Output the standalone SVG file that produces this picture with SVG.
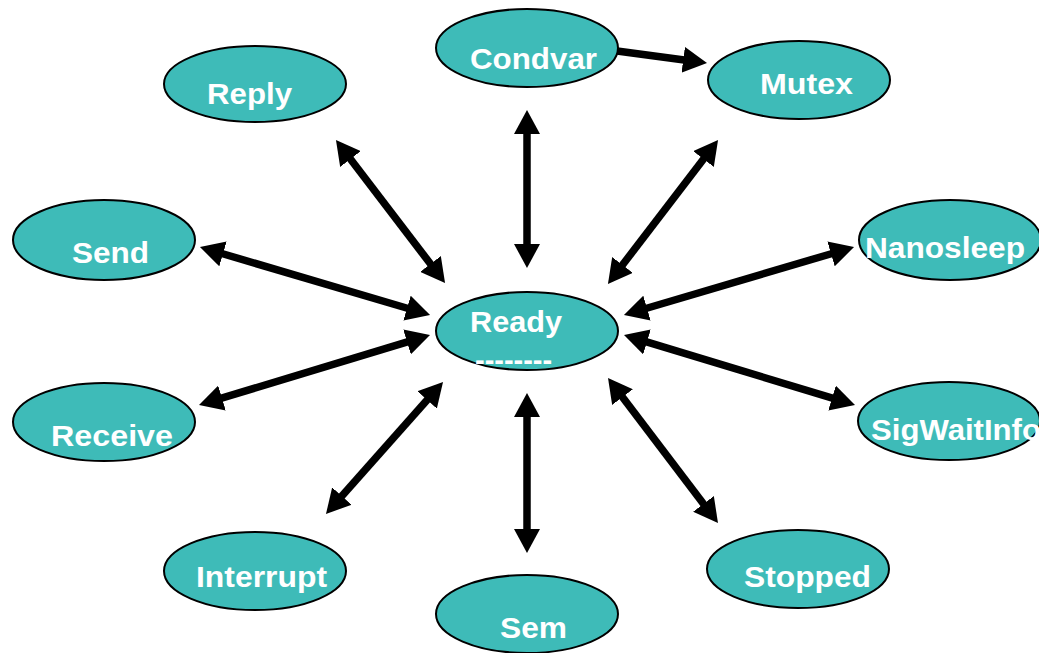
<svg xmlns="http://www.w3.org/2000/svg" width="1039" height="653" viewBox="0 0 1039 653">
<style>
.n{fill:#3EBBB8;stroke:#000;stroke-width:2}
.t{font-family:"Liberation Sans",Arial,sans-serif;font-weight:bold;font-size:30px;fill:#fff}
.c line{stroke:#000;stroke-width:7.5}
.b{marker-start:url(#ah);marker-end:url(#ah)}
.s{marker-end:url(#ah)}
</style>
<defs>
<marker id="ah" markerUnits="userSpaceOnUse" viewBox="0 -13 24 26" markerWidth="24" markerHeight="26" refX="3" refY="0" orient="auto-start-reverse">
<path d="M0,-13 L24,0 L0,13 z" fill="#000"/>
</marker>
</defs>
<rect width="1039" height="653" fill="#fff"/>
<g id="connectors" class="c">
<line class="b" x1="527" y1="131" x2="527" y2="247"/>
<line class="b" x1="527" y1="414" x2="527" y2="532"/>
<line class="b" x1="348.7" y1="156.7" x2="432.3" y2="266.3"/>
<line class="b" x1="705.3" y1="156.7" x2="620.7" y2="267.3"/>
<line class="b" x1="429.1" y1="397.7" x2="339.9" y2="498.3"/>
<line class="b" x1="620.7" y1="394.7" x2="705.3" y2="506.3"/>
<line class="b" x1="220.1" y1="253" x2="409.9" y2="309"/>
<line class="b" x1="219.1" y1="398.9" x2="409.9" y2="341.1"/>
<line class="b" x1="833.9" y1="253" x2="644.1" y2="309"/>
<line class="b" x1="834.9" y1="398.9" x2="644.1" y2="341.1"/>
<line class="s" x1="617" y1="51" x2="686.2" y2="60.2"/>
</g>
<g id="condvar"><ellipse class="n" cx="527" cy="48" rx="91" ry="39"/><text class="t" x="470" y="69" textLength="127" lengthAdjust="spacingAndGlyphs">Condvar</text></g>
<g id="mutex"><ellipse class="n" cx="799" cy="80" rx="91" ry="39"/><text class="t" x="760" y="94" textLength="93" lengthAdjust="spacingAndGlyphs">Mutex</text></g>
<g id="reply"><ellipse class="n" cx="255" cy="84" rx="91" ry="38"/><text class="t" x="207" y="104" textLength="85" lengthAdjust="spacingAndGlyphs">Reply</text></g>
<g id="send"><ellipse class="n" cx="104" cy="240" rx="91" ry="40"/><text class="t" x="72" y="263" textLength="77" lengthAdjust="spacingAndGlyphs">Send</text></g>
<g id="receive"><ellipse class="n" cx="104" cy="422" rx="91" ry="39"/><text class="t" x="51" y="446" textLength="122" lengthAdjust="spacingAndGlyphs">Receive</text></g>
<g id="ready"><ellipse class="n" cx="527" cy="331" rx="91" ry="39"/><text class="t" x="470" y="332" textLength="92" lengthAdjust="spacingAndGlyphs">Ready</text><text class="t" x="475" y="370" textLength="77" lengthAdjust="spacingAndGlyphs">--------</text></g>
<g id="nanosleep"><ellipse class="n" cx="950" cy="240" rx="91" ry="40"/><text class="t" x="865" y="258" textLength="160" lengthAdjust="spacingAndGlyphs">Nanosleep</text></g>
<g id="sigwaitinfo"><ellipse class="n" cx="949" cy="421" rx="91" ry="39"/><text class="t" x="871" y="440" textLength="170" lengthAdjust="spacingAndGlyphs">SigWaitInfo</text></g>
<g id="interrupt"><ellipse class="n" cx="255" cy="571" rx="91" ry="39"/><text class="t" x="196" y="587" textLength="131" lengthAdjust="spacingAndGlyphs">Interrupt</text></g>
<g id="stopped"><ellipse class="n" cx="798" cy="569" rx="91" ry="39"/><text class="t" x="744" y="587" textLength="127" lengthAdjust="spacingAndGlyphs">Stopped</text></g>
<g id="sem"><ellipse class="n" cx="527" cy="614" rx="91" ry="39"/><text class="t" x="500" y="638" textLength="67" lengthAdjust="spacingAndGlyphs">Sem</text></g>
</svg>
